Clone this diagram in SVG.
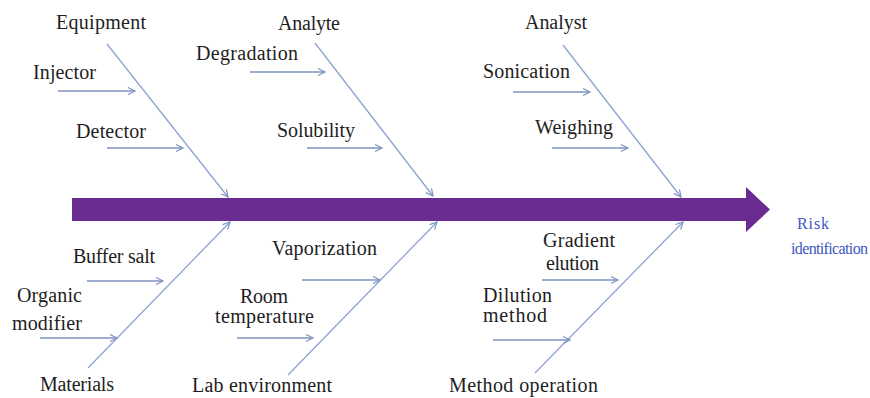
<svg xmlns="http://www.w3.org/2000/svg" width="870" height="398" viewBox="0 0 870 398">
  <style>
    .lbl { font-family: "Liberation Serif", "Times New Roman", serif; font-size: 20px; fill: #1e1e1e; }
    .out { font-family: "Liberation Serif", "Times New Roman", serif; font-size: 16px; fill: #3d56c4; }
    .bone { stroke: #8ea3d3; stroke-width: 1.3; fill: none; marker-end: url(#tip); }
    .twig { stroke: #7f93c0; stroke-width: 1.3; fill: none; marker-end: url(#tip); }
  </style>
  <defs>
    <marker id="tip" markerUnits="userSpaceOnUse" markerWidth="10" markerHeight="10" refX="8" refY="4" orient="auto">
      <path d="M1,0.5 L8,4 L1,7.5" fill="none" stroke="#7f93c0" stroke-width="1.2"/>
    </marker>
  </defs>

  <rect width="870" height="398" fill="#ffffff"/>

  <!-- main spine -->
  <g id="spine">
    <rect x="72" y="198" width="676" height="23" fill="#6a2c91"/>
    <polygon points="746,187 770,209.5 746,232" fill="#6a2c91"/>
  </g>

  <!-- connectors: category bones and cause arrows -->
  <g id="connectors">
    <line class="bone" x1="107" y1="44" x2="228" y2="197"/>
    <line class="bone" x1="315" y1="43" x2="433" y2="196"/>
    <line class="bone" x1="563" y1="45" x2="681" y2="197"/>
    <line class="bone" x1="88" y1="368" x2="230" y2="222"/>
    <line class="bone" x1="288" y1="375" x2="437" y2="222"/>
    <line class="bone" x1="535" y1="373" x2="683" y2="222"/>

    <line class="twig" x1="58" y1="91" x2="135" y2="91"/>
    <line class="twig" x1="107" y1="148" x2="183" y2="148"/>
    <line class="twig" x1="250" y1="72" x2="325" y2="72"/>
    <line class="twig" x1="307" y1="148" x2="382" y2="148"/>
    <line class="twig" x1="513" y1="92" x2="590" y2="92"/>
    <line class="twig" x1="552" y1="148" x2="628" y2="148"/>

    <line class="twig" x1="87" y1="281" x2="163" y2="281"/>
    <line class="twig" x1="40" y1="338" x2="117" y2="338"/>
    <line class="twig" x1="302" y1="280" x2="380" y2="280"/>
    <line class="twig" x1="237" y1="338" x2="313" y2="338"/>
    <line class="twig" x1="542" y1="280" x2="618" y2="280"/>
    <line class="twig" x1="493" y1="340" x2="570" y2="340"/>
  </g>

  <!-- categories -->
  <g id="equipment"><text class="lbl" x="56" y="29" textLength="90">Equipment</text></g>
  <g id="analyte"><text class="lbl" x="278" y="30" textLength="62">Analyte</text></g>
  <g id="analyst"><text class="lbl" x="525" y="29" textLength="62">Analyst</text></g>
  <g id="materials"><text class="lbl" x="40" y="391" textLength="74">Materials</text></g>
  <g id="lab-environment"><text class="lbl" x="192" y="392" textLength="140">Lab environment</text></g>
  <g id="method-operation"><text class="lbl" x="449" y="392" textLength="149">Method operation</text></g>

  <!-- causes -->
  <g id="injector"><text class="lbl" x="33" y="79" textLength="63">Injector</text></g>
  <g id="detector"><text class="lbl" x="76" y="138" textLength="70">Detector</text></g>
  <g id="degradation"><text class="lbl" x="196" y="60" textLength="102">Degradation</text></g>
  <g id="solubility"><text class="lbl" x="277" y="137" textLength="78">Solubility</text></g>
  <g id="sonication"><text class="lbl" x="483" y="78" textLength="87">Sonication</text></g>
  <g id="weighing"><text class="lbl" x="535" y="134" textLength="78">Weighing</text></g>
  <g id="buffer-salt"><text class="lbl" x="73" y="263" textLength="82">Buffer salt</text></g>
  <g id="organic-modifier">
    <text class="lbl" x="17" y="302" textLength="65">Organic</text>
    <text class="lbl" x="12" y="330" textLength="70">modifier</text>
  </g>
  <g id="vaporization"><text class="lbl" x="272" y="255" textLength="105">Vaporization</text></g>
  <g id="room-temperature">
    <text class="lbl" x="240" y="303" textLength="48">Room</text>
    <text class="lbl" x="215" y="323" textLength="99">temperature</text>
  </g>
  <g id="gradient-elution">
    <text class="lbl" x="543" y="247" textLength="72">Gradient</text>
    <text class="lbl" x="546" y="270" textLength="53">elution</text>
  </g>
  <g id="dilution-method">
    <text class="lbl" x="483" y="302" textLength="69">Dilution</text>
    <text class="lbl" x="483" y="322" textLength="64">method</text>
  </g>

  <!-- effect -->
  <g id="risk-identification">
    <text class="out" x="797" y="229" textLength="32">Risk</text>
    <text class="out" x="791" y="254" textLength="77">identification</text>
  </g>
</svg>
